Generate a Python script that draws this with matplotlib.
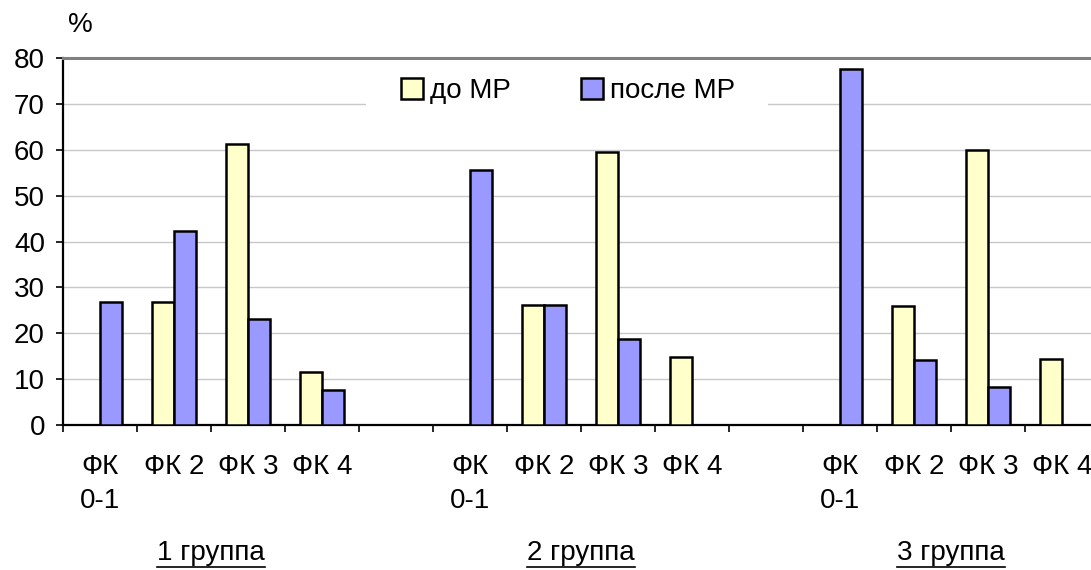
import numpy as np
import matplotlib.pyplot as plt
from matplotlib.lines import Line2D
from matplotlib.patches import Rectangle
from matplotlib.transforms import blended_transform_factory

plt.rcParams['font.family'] = ['Liberation Sans', 'DejaVu Sans']

# categories: 4 classes per group, an empty slot between groups
categories = ["ФК\n0-1", "ФК 2", "ФК 3", "ФК 4", "",
              "ФК\n0-1", "ФК 2", "ФК 3", "ФК 4", "",
              "ФК\n0-1", "ФК 2", "ФК 3", "ФК 4"]
before_mr = [None, 26.9, 61.3, 11.5, None,
             None, 26.2, 59.5, 14.8, None,
             None, 25.9, 60.0, 14.3]
after_mr = [26.9, 42.3, 23.0, 7.6, None,
            55.5, 26.2, 18.7, None, None,
            77.6, 14.2, 8.2, None]
groups = ["1 группа", "2 группа", "3 группа"]
group_centers = [1.5, 6.5, 11.5]
series_names = ["до МР", "после МР"]

W, H = 1091, 570
fig = plt.figure(figsize=(W / 100, H / 100), dpi=100)
ax = fig.add_axes([63 / W, 145 / H, 1036 / W, 367 / H])

x = np.arange(len(categories))
bw = 0.293
fs = 20

def draw_series(values, offset, color, label):
    xs = [xi + offset for xi, v in zip(x, values) if v is not None]
    hs = [v for v in values if v is not None]
    ax.bar(xs, hs, width=bw, color=color, edgecolor='black', linewidth=1.8,
           label=label, zorder=3)

draw_series(before_mr, -bw / 2, '#FFFFCC', series_names[0])
draw_series(after_mr, bw / 2, '#9999FF', series_names[1])

ax.set_xlim(-0.5, len(categories) - 0.5)
ax.set_ylim(0, 80)
ax.set_yticks(range(0, 81, 10))
ax.grid(axis='y', color='#C8C8C8', linewidth=1.0, zorder=0)
ax.set_axisbelow(True)

# category boundaries carry the tick marks, labels sit at the centres
ax.set_xticks(np.arange(-0.5, len(categories), 1.0))
ax.set_xticklabels([])
ax.set_xticks(x, minor=True)
ax.set_xticklabels(categories, minor=True, fontsize=fs, linespacing=1.4)
ax.tick_params(axis='x', which='major', length=5, width=1.2, direction='out')
ax.tick_params(axis='x', which='minor', length=0, pad=21)
ax.tick_params(axis='y', length=5, width=1.2, labelsize=fs, pad=8)

for s in ['left', 'bottom']:
    ax.spines[s].set_linewidth(1.6)
    ax.spines[s].set_color('black')
ax.spines['top'].set_color('#808080')
ax.spines['top'].set_linewidth(2.2)
ax.spines['right'].set_visible(False)

# white strip behind the legend hides the gridline it sits on
ax.add_patch(Rectangle((366 / W, 1 - 115 / H), 402 / W, 45 / H,
                       transform=fig.transFigure, facecolor='white',
                       edgecolor='none', zorder=1))
leg = ax.legend(loc='center', bbox_to_anchor=(568 / W, 1 - 91 / H),
                bbox_transform=fig.transFigure, ncol=2, fontsize=fs,
                handlelength=0.8, handleheight=0.8, handletextpad=0.25,
                columnspacing=2.5, borderpad=0.0, borderaxespad=0,
                frameon=False)
for p in leg.get_patches():
    p.set_linewidth(1.8)

fig.text(80 / W, 1 - 25 / H, "%", fontsize=fs, ha='center', va='center')

# underlined group captions below the category labels
gtrans = blended_transform_factory(ax.transData, fig.transFigure)
texts = []
for gx, g in zip(group_centers, groups):
    t = ax.text(gx, 1 - 553 / H, g, fontsize=fs, ha='center', va='center',
                transform=gtrans)
    texts.append(t)

fig.canvas.draw()
renderer = fig.canvas.get_renderer()
for t in texts:
    bb = t.get_window_extent(renderer).transformed(fig.transFigure.inverted())
    fig.add_artist(Line2D([bb.x0, bb.x1], [bb.y0 - 1 / H, bb.y0 - 1 / H],
                          color='black', linewidth=1.2,
                          transform=fig.transFigure))

fig.savefig("out.png", dpi=100)
